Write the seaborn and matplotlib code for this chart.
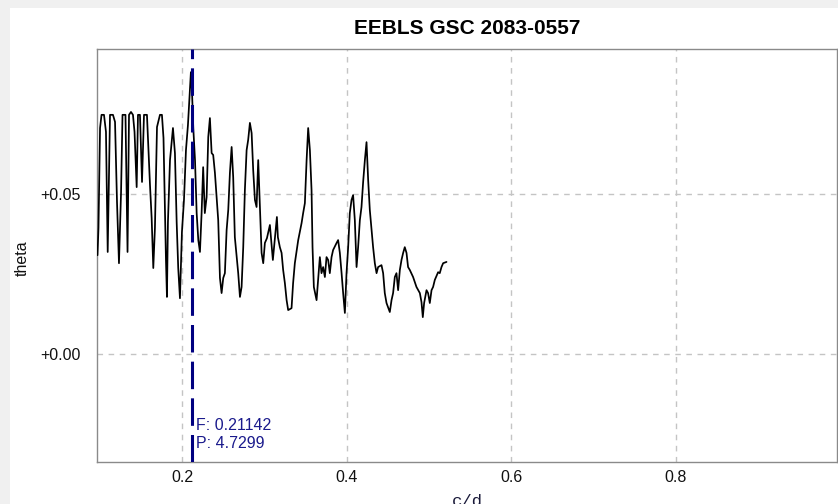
import matplotlib
matplotlib.use("Agg")
import matplotlib.pyplot as plt
from matplotlib.patches import Rectangle
from matplotlib.ticker import FuncFormatter
import seaborn as sns
import pandas as pd

# EEBLS periodogram of GSC 2083-0557
freq = [
    0.0970, 0.0982, 0.1001, 0.1019, 0.1049, 0.1073, 0.1094, 0.1122, 0.1158, 0.1183,
    0.1207, 0.1231, 0.1256, 0.1274, 0.1310, 0.1335, 0.1353, 0.1377, 0.1401, 0.1420,
    0.1446, 0.1462, 0.1486, 0.1511, 0.1535, 0.1571, 0.1608, 0.1628, 0.1648, 0.1668,
    0.1693, 0.1729, 0.1753, 0.1772, 0.1784, 0.1802, 0.1814, 0.1826, 0.1851, 0.1887,
    0.1911, 0.1932, 0.1951, 0.1972, 0.1996, 0.2021, 0.2045, 0.2069, 0.2105, 0.2118,
    0.2134, 0.2155, 0.2175, 0.2195, 0.2215, 0.2235, 0.2254, 0.2274, 0.2296, 0.2316,
    0.2336, 0.2357, 0.2376, 0.2397, 0.2418, 0.2437, 0.2458, 0.2478, 0.2498, 0.2518,
    0.2539, 0.2559, 0.2579, 0.2600, 0.2619, 0.2639, 0.2661, 0.2680, 0.2701, 0.2721,
    0.2741, 0.2761, 0.2782, 0.2801, 0.2822, 0.2843, 0.2862, 0.2883, 0.2903, 0.2923,
    0.2944, 0.2964, 0.2984, 0.3004, 0.3029, 0.3065, 0.3101, 0.3150, 0.3162, 0.3186,
    0.3207, 0.3226, 0.3247, 0.3268, 0.3287, 0.3328, 0.3347, 0.3368, 0.3409, 0.3450,
    0.3469, 0.3490, 0.3511, 0.3530, 0.3551, 0.3571, 0.3583, 0.3599, 0.3632, 0.3651,
    0.3672, 0.3692, 0.3712, 0.3733, 0.3753, 0.3773, 0.3793, 0.3814, 0.3833, 0.3875,
    0.3894, 0.3915, 0.3936, 0.3955, 0.3976, 0.3996, 0.4016, 0.4036, 0.4057, 0.4076,
    0.4097, 0.4118, 0.4137, 0.4158, 0.4178, 0.4198, 0.4219, 0.4239, 0.4259, 0.4279,
    0.4300, 0.4319, 0.4340, 0.4361, 0.4380, 0.4421, 0.4441, 0.4461, 0.4482, 0.4522,
    0.4543, 0.4562, 0.4583, 0.4603, 0.4623, 0.4644, 0.4664, 0.4684, 0.4704, 0.4725,
    0.4744, 0.4765, 0.4805, 0.4846, 0.4887, 0.4907, 0.4923, 0.4939, 0.4968, 0.4987,
    0.5008, 0.5029, 0.5048, 0.5069, 0.5109, 0.5129, 0.5150, 0.5170, 0.5211,
]
theta = [
    0.0308, 0.0393, 0.0704, 0.0745, 0.0745, 0.0692, 0.0318, 0.0745, 0.0745, 0.0723,
    0.0474, 0.0283, 0.0502, 0.0745, 0.0745, 0.0318, 0.0745, 0.0754, 0.0745, 0.0692,
    0.0520, 0.0745, 0.0745, 0.0536, 0.0745, 0.0745, 0.0526, 0.0424, 0.0268, 0.0393,
    0.0707, 0.0745, 0.0745, 0.0673, 0.0517, 0.0293, 0.0178, 0.0411, 0.0604, 0.0704,
    0.0626, 0.0411, 0.0268, 0.0174, 0.0380, 0.0480, 0.0635, 0.0713, 0.0878, 0.0820,
    0.0704, 0.0604, 0.0439, 0.0355, 0.0318, 0.0439, 0.0582, 0.0439, 0.0489, 0.0676,
    0.0735, 0.0626, 0.0620, 0.0564, 0.0489, 0.0417, 0.0237, 0.0190, 0.0237, 0.0252,
    0.0386, 0.0449, 0.0564, 0.0645, 0.0551, 0.0364, 0.0302, 0.0252, 0.0178, 0.0209,
    0.0333, 0.0511, 0.0635, 0.0667, 0.0720, 0.0688, 0.0573, 0.0480, 0.0458, 0.0604,
    0.0458, 0.0315, 0.0283, 0.0346, 0.0361, 0.0402, 0.0293, 0.0427, 0.0364, 0.0333,
    0.0315, 0.0262, 0.0221, 0.0168, 0.0137, 0.0143, 0.0221, 0.0283, 0.0355, 0.0408,
    0.0439, 0.0470, 0.0604, 0.0704, 0.0635, 0.0511, 0.0333, 0.0209, 0.0168, 0.0231,
    0.0302, 0.0252, 0.0271, 0.0240, 0.0302, 0.0293, 0.0252, 0.0302, 0.0324, 0.0346,
    0.0355, 0.0315, 0.0252, 0.0190, 0.0128, 0.0252, 0.0333, 0.0439, 0.0480, 0.0495,
    0.0417, 0.0271, 0.0333, 0.0417, 0.0458, 0.0536, 0.0604, 0.0660, 0.0542, 0.0449,
    0.0386, 0.0333, 0.0283, 0.0252, 0.0271, 0.0277, 0.0252, 0.0190, 0.0159, 0.0131,
    0.0168, 0.0190, 0.0240, 0.0252, 0.0199, 0.0262, 0.0293, 0.0315, 0.0333, 0.0315,
    0.0271, 0.0262, 0.0240, 0.0209, 0.0190, 0.0162, 0.0115, 0.0159, 0.0199, 0.0190,
    0.0159, 0.0199, 0.0209, 0.0231, 0.0255, 0.0252, 0.0271, 0.0283, 0.0287,
]

best_freq = 0.21142
best_period = 4.7299
x_ticks = [0.2, 0.4, 0.6, 0.8]
y_ticks = [0.00, 0.05]

sns.set_theme(style="white")
plt.rcParams["font.family"] = ["Liberation Sans", "DejaVu Sans"]

W, H = 838, 504
fig = plt.figure(figsize=(W / 100, H / 100), dpi=100)
fig.patch.set_facecolor("#f0f0f0")
fig.patches.append(Rectangle((10 / W, 0), 1 - 10 / W, 1 - 8 / H,
                             transform=fig.transFigure, facecolor="white",
                             edgecolor="none", zorder=-10))

ax = fig.add_axes([97 / W, 1 - 462 / H, (836.5 - 97) / W, (462 - 49) / H])
ax.set_zorder(2)
ax.set_facecolor("white")

df = pd.DataFrame({"c/d": freq, "theta": theta})
sns.lineplot(data=df, x="c/d", y="theta", ax=ax, color="black", lw=1.25,
             estimator=None, sort=False, zorder=3)

ax.axvline(best_freq, color="#000080", lw=2.2, dashes=(9, 3), zorder=4)

ax.set_xlim(0.0964, 0.995)
ax.set_ylim(-0.0336, 0.0950)
ax.set_xticks(x_ticks)
ax.set_yticks(y_ticks)
ax.xaxis.set_major_formatter(FuncFormatter(lambda v, p: f"{v:.1f}"))
ax.yaxis.set_major_formatter(FuncFormatter(lambda v, p: f"{v:+.2f}"))
ax.tick_params(axis="both", length=0, labelsize=11.5, colors="#111111")
ax.tick_params(axis="y", pad=12)
ax.tick_params(axis="x", pad=6)
ax.grid(True, color="#c4c4c4", lw=1.0, ls=(0, (4, 4)))
for s in ax.spines.values():
    s.set_color("#8a8a8a")
    s.set_linewidth(1.0)
ax.set_xlabel("")
ax.set_ylabel("")

ax.set_title("EEBLS GSC 2083-0557", fontsize=15, fontweight="bold", pad=11,
             color="black")

ax.annotate(f"F: {best_freq:.5f}\nP: {best_period:.4f}", xy=(best_freq, -0.0250),
            xytext=(3, 0), textcoords="offset points", color="#1a1a8c",
            fontsize=11.5, ha="left", va="center", linespacing=1.2, zorder=5)

fig.text(22.5 / W, 1 - 258 / H, "theta", rotation=90, ha="center", va="center",
         fontsize=11.5, color="#111111")
fig.text(467 / W, 1 - 494 / H, "c/d", ha="center", va="top",
         fontsize=12.5, color="#1a1a3a", family=["Liberation Mono", "DejaVu Sans Mono"])

fig.savefig("out.png", dpi=100)
